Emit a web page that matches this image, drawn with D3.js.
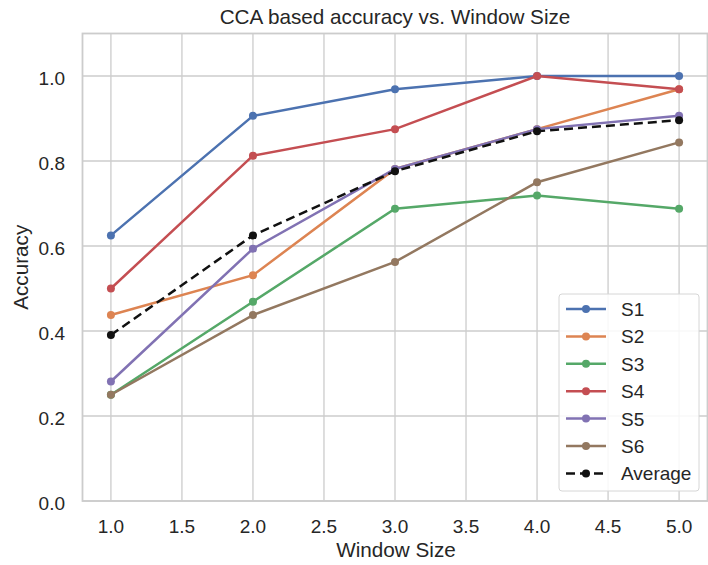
<!DOCTYPE html>
<html><head><meta charset="utf-8">
<script src="https://cdn.jsdelivr.net/npm/d3@7"></script>
<style>body{margin:0;background:#fff;} text{font-family:"Liberation Sans",Arial,sans-serif;fill:#262626;}</style>
</head><body><svg id="c" width="708" height="565"></svg>
<script>
const windowSizes = [1, 2, 3, 4, 5];
const seriesNames = ["S1","S2","S3","S4","S5","S6"];
const S1 = [0.625, 0.90625, 0.96875, 1.0, 1.0];
const S2 = [0.4375, 0.53125, 0.78125, 0.875, 0.96875];
const S3 = [0.25, 0.46875, 0.6875, 0.71875, 0.6875];
const S4 = [0.5, 0.8125, 0.875, 1.0, 0.96875];
const S5 = [0.28125, 0.59375, 0.78125, 0.875, 0.90625];
const S6 = [0.25, 0.4375, 0.5625, 0.75, 0.84375];
const Average = [0.390625, 0.625, 0.776, 0.870, 0.896];
const xTicks = [1.0,1.5,2.0,2.5,3.0,3.5,4.0,4.5,5.0];
const yTicks = [0.0,0.2,0.4,0.6,0.8,1.0];
const colors = ["#4C72B0","#DD8452","#55A868","#C44E52","#8172B3","#937860"];

const svg = d3.select("#c");
const L=82.5, R=707.5, T=33.5, B=501;
const x = d3.scaleLinear().domain([0.8,5.2]).range([L,R]);
const y = d3.scaleLinear().domain([0,1.1]).range([B,T]);

// grid
svg.append("g").selectAll("line").data(xTicks).join("line")
  .attr("x1",d=>x(d)).attr("x2",d=>x(d)).attr("y1",T).attr("y2",B)
  .attr("stroke","#cccccc").attr("stroke-width",1.3);
svg.append("g").selectAll("line").data(yTicks).join("line")
  .attr("y1",d=>y(d)).attr("y2",d=>y(d)).attr("x1",L).attr("x2",R)
  .attr("stroke","#cccccc").attr("stroke-width",1.3);
svg.append("rect").attr("x",L).attr("y",T).attr("width",R-L).attr("height",B-T)
  .attr("fill","none").attr("stroke","#cccccc").attr("stroke-width",1.8);

// tick labels
svg.append("g").selectAll("text").data(xTicks).join("text")
  .attr("x",d=>x(d)).attr("y",532.5).attr("text-anchor","middle")
  .attr("font-size",19).text(d=>d.toFixed(1));
svg.append("g").selectAll("text").data(yTicks).join("text")
  .attr("x",65).attr("y",d=>y(d)+8.5).attr("text-anchor","end")
  .attr("font-size",19).text(d=>d.toFixed(1));

svg.append("text").attr("x",(L+R)/2 + 1).attr("y",557).attr("text-anchor","middle")
  .attr("font-size",20.7).text("Window Size");
svg.append("text").attr("transform",`translate(28,${(T+B)/2}) rotate(-90)`)
  .attr("text-anchor","middle").attr("font-size",20.7).text("Accuracy");
svg.append("text").attr("x",(L+R)/2).attr("y",24).attr("text-anchor","middle")
  .attr("font-size",20.7).text("CCA based accuracy vs. Window Size");

const all = [S1,S2,S3,S4,S5,S6].map((v,i)=>({name:seriesNames[i],vals:v,color:colors[i],dash:null}));
all.push({name:"Average",vals:Average,color:"#111111",dash:"9,5"});
const line = d3.line().x((d,i)=>x(windowSizes[i])).y(d=>y(d));
const g = svg.append("g");
all.forEach(s=>{
  g.append("path").datum(s.vals).attr("d",line).attr("fill","none")
   .attr("stroke",s.color).attr("stroke-width",2.5).attr("stroke-dasharray",s.dash);
  g.selectAll(null).data(s.vals).join("circle")
   .attr("cx",(d,i)=>x(windowSizes[i])).attr("cy",d=>y(d)).attr("r",4).attr("fill",s.color);
});

// legend
const lg = svg.append("g");
lg.append("rect").attr("x",559).attr("y",294).attr("width",140).attr("height",197)
  .attr("rx",3).attr("fill","#ffffff").attr("fill-opacity",0.85).attr("stroke","#d6d6d6").attr("stroke-width",1);
all.forEach((s,i)=>{
  const yy = 309 + i*27.4;
  lg.append("line").attr("x1",566).attr("x2",606).attr("y1",yy).attr("y2",yy)
    .attr("stroke",s.color).attr("stroke-width",2.5).attr("stroke-dasharray",s.dash);
  lg.append("circle").attr("cx",586).attr("cy",yy).attr("r",4).attr("fill",s.color);
  lg.append("text").attr("x",621).attr("y",yy+7).attr("font-size",19).text(s.name);
});
</script></body></html>
